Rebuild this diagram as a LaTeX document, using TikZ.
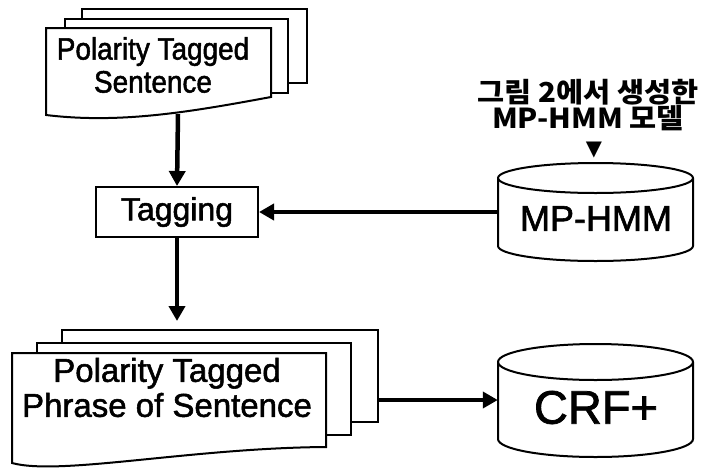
\documentclass[tikz,border=0pt]{standalone}
\usepackage{fontspec}
\setmainfont{Liberation Sans}[FakeBold=1.6]
\newfontfamily\narrowfont[FakeStretch=0.9,FakeBold=1.6]{Liberation Sans}
\newfontfamily\kfont[FakeStretch=1.07]{Noto Sans CJK KR}
\newfontfamily\dejavu{DejaVu Sans}
\usetikzlibrary{arrows.meta}
\begin{document}
\begin{tikzpicture}[x=1pt,y=-1pt,
  border/.style={line width=2pt, draw=black, fill=white},
  docrect/.style={border, rectangle, inner sep=0pt},
  body/.style={rectangle, inner sep=0pt},
  arr/.style={line width=4.5pt, -{Triangle[length=15pt,width=16pt]}},
  lbl/.style={inner sep=0pt, align=center}]
\useasboundingbox (0,0) rectangle (717,469);

% ---------- top document stack ----------
\node[docrect, minimum width=225pt, minimum height=74pt] (topback) at (194.5,46) {};
\node[docrect, minimum width=223pt, minimum height=74pt] (topmid) at (176.5,56) {};
\draw[border] (46,28) -- (271,28) -- (271,97)
  .. controls (190,112) and (120,124) .. (46,115) -- cycle;
\node[lbl, font=\narrowfont\fontsize{31}{33}\selectfont] (topdoc) at (153,65)
  {Polarity Tagged\\Sentence};
\coordinate (topwave) at (178,114);

% ---------- Tagging ----------
\node[docrect, minimum width=162pt, minimum height=50pt,
      font=\fontsize{32}{34}\selectfont] (tag) at (177,212) {Tagging};

% ---------- MP-HMM cylinder ----------
\draw[border] (498,178) -- (498,246)
  .. controls (498,254.28) and (541.65,261) .. (595.5,261)
  .. controls (649.35,261) and (693,254.28) .. (693,246)
  -- (693,178)
  .. controls (693,169.72) and (649.35,163) .. (595.5,163)
  .. controls (541.65,163) and (498,169.72) .. (498,178) -- cycle;
\draw[line width=2pt] (498,178)
  .. controls (498,186.28) and (541.65,193) .. (595.5,193)
  .. controls (649.35,193) and (693,186.28) .. (693,178);
\node[body, minimum width=195pt, minimum height=68pt] (mpbody) at (595.5,212) {};
\node[lbl, font=\fontsize{36}{38}\selectfont] (mphmm) at (596,218.5) {MP-HMM};

% ---------- Korean label ----------
\node[lbl, font=\kfont\bfseries\fontsize{27.5}{24.5}\selectfont] (klabel) at (588,105)
  {그림 2에서 생성한\\MP-HMM 모델};
\node[lbl, font=\dejavu\fontsize{21}{21}\selectfont] (tri) at (594,150) {▼};

% ---------- bottom document stack ----------
\node[docrect, minimum width=316pt, minimum height=92pt] (botback) at (220,376) {};
\node[docrect, minimum width=314pt, minimum height=92pt] (botmid) at (194,389) {};
\draw[border] (12,353) -- (326,353) -- (326,447)
  .. controls (190,448) and (60,476) .. (12,463) -- cycle;
\node[lbl, font=\fontsize{33}{35}\selectfont] (botdoc) at (167,387.5)
  {Polarity Tagged\\Phrase of Sentence};

% ---------- CRF+ cylinder ----------
\draw[border] (498,362) -- (498,439)
  .. controls (498,448.94) and (541.65,457) .. (595.5,457)
  .. controls (649.35,457) and (693,448.94) .. (693,439)
  -- (693,362)
  .. controls (693,352.06) and (649.35,344) .. (595.5,344)
  .. controls (541.65,344) and (498,352.06) .. (498,362) -- cycle;
\draw[line width=2pt] (498,362)
  .. controls (498,371.94) and (541.65,380) .. (595.5,380)
  .. controls (649.35,380) and (693,371.94) .. (693,362);
\node[body, minimum width=195pt, minimum height=77pt] (crfbody) at (595.5,400) {};
\node[lbl, font=\fontsize{47}{49}\selectfont] (crf) at (596,407.5) {CRF+};

% ---------- connectors ----------
\draw[arr] (topwave) -- (tag.north);
\draw[arr] (mpbody.west) -- (tag.east);
\draw[arr, shorten >=8pt] (tag.south) -- (tag.south |- botback.north);
\draw[arr] (botback.east |- crfbody.west) -- (crfbody.west);
\end{tikzpicture}
\end{document}
